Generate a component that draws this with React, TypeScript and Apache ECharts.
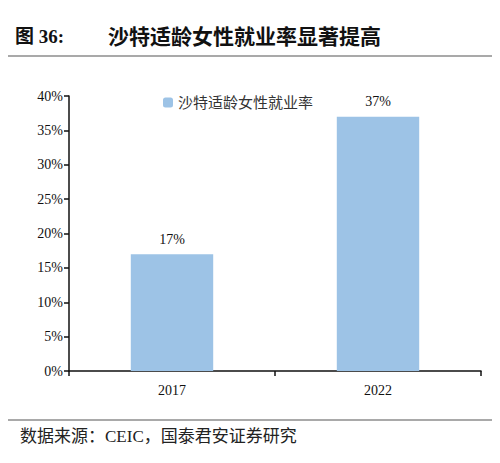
import React, { useEffect, useRef } from 'react';
import * as echarts from 'echarts';

const categories = ['2017', '2022'];
const rates = [17, 37];
const yTicks = [0, 5, 10, 15, 20, 25, 30, 35, 40];
const seriesName = '沙特适龄女性就业率';

const serif = '"Liberation Serif", "Times New Roman", "Noto Sans CJK SC", serif';

const App: React.FC = () => {
	const chartRef = useRef<HTMLDivElement>(null);

	useEffect(() => {
		if (!chartRef.current) return;
		const chart = echarts.init(chartRef.current, undefined, { renderer: 'svg' });

		const option: echarts.EChartsOption = {
			animation: false,
			backgroundColor: '#fff',
			textStyle: { fontFamily: serif },
			graphic: [
				{
					type: 'text',
					left: 15,
					top: 27,
					style: { text: '图 36:', font: `bold 19px ${serif}`, fill: '#111' }
				},
				{
					type: 'text',
					left: 108,
					top: 26,
					style: { text: '沙特适龄女性就业率显著提高', font: `bold 21px ${serif}`, fill: '#111' }
				},
				{
					type: 'line',
					shape: { x1: 0, y1: 56, x2: 495, y2: 56 },
					style: { stroke: '#555', lineWidth: 1.2 }
				},
				{
					type: 'line',
					shape: { x1: 0, y1: 420, x2: 495, y2: 420 },
					style: { stroke: '#555', lineWidth: 1.2 }
				},
				{
					type: 'text',
					left: 20,
					top: 428,
					style: { text: '数据来源：CEIC，国泰君安证券研究', font: `17px ${serif}`, fill: '#222' }
				}
			],
			legend: {
				data: [seriesName],
				left: 158,
				top: 90,
				itemWidth: 10,
				itemHeight: 10,
				itemGap: 6,
				textStyle: { fontSize: 15, color: '#333', fontFamily: serif }
			},
			grid: {
				left: 69,
				right: 19,
				top: 96,
				bottom: 92
			},
			xAxis: {
				type: 'category',
				data: categories,
				axisLine: { lineStyle: { color: '#111', width: 1.5 } },
				axisTick: { show: true, alignWithLabel: false, length: 5, lineStyle: { color: '#111', width: 1.5 } },
				axisLabel: { color: '#111', fontSize: 14, margin: 12, fontFamily: serif }
			},
			yAxis: {
				type: 'value',
				min: yTicks[0],
				max: yTicks[yTicks.length - 1],
				interval: 5,
				axisLine: { show: true, lineStyle: { color: '#111', width: 1.5 } },
				axisTick: { show: true, length: 5, lineStyle: { color: '#111', width: 1.5 } },
				axisLabel: { color: '#111', fontSize: 14, margin: 6, formatter: '{value}%', fontFamily: serif },
				splitLine: { show: false }
			},
			series: [
				{
					name: seriesName,
					type: 'bar',
					data: rates,
					barWidth: '40%',
					itemStyle: { color: '#9DC3E6' },
					label: {
						show: true,
						position: 'top',
						formatter: '{c}%',
						color: '#111',
						fontSize: 14,
						distance: 8,
						fontFamily: serif
					}
				}
			]
		};

		chart.setOption(option);
		return () => {
			chart.dispose();
		};
	}, []);

	return <div ref={chartRef} style={{ width: 500, height: 463, margin: -8 }} />;
};

export default App;
